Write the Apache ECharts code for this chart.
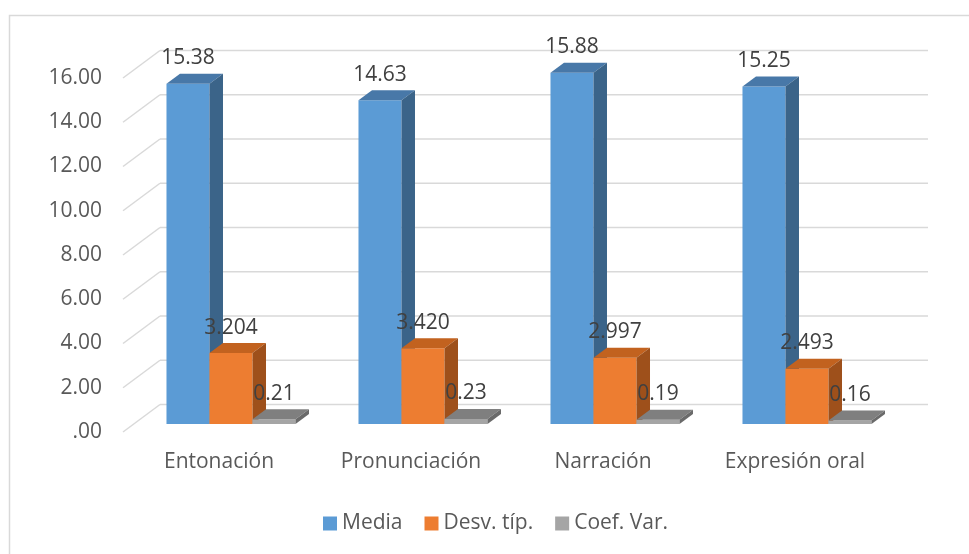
<!DOCTYPE html>
<html>
<head>
<meta charset="utf-8">
<script src="https://cdn.jsdelivr.net/npm/echarts@6/dist/echarts.min.js"></script>
<style>
html,body{margin:0;padding:0;background:#fff;}
#chart{width:969px;height:554px;}
</style>
</head>
<body>
<div id="chart"></div>
<script>
// ---- data ----
const categories = ['Entonación', 'Pronunciación', 'Narración', 'Expresión oral'];
const seriesNames = ['Media', 'Desv. típ.', 'Coef. Var.'];
const media = [15.38, 14.63, 15.88, 15.25];
const desv = [3.204, 3.420, 2.997, 2.493];
const coef = [0.21, 0.23, 0.19, 0.16];
const labelDecimals = [2, 3, 2];
const yTicks = [0, 2, 4, 6, 8, 10, 12, 14, 16];

// ---- style ----
const FONT = 'Open Sans';
const faceColors = [
  { front: '#5B9BD5', top: '#4878A8', side: '#3B6489' },
  { front: '#ED7D31', top: '#C2621F', side: '#9E501B' },
  { front: '#A5A5A5', top: '#7F7F7F', side: '#6A6A6A' }
];
const OX = 12, OY = -8;       // bar plane offset from front plane
const DX = 13.5, DY = -10;    // bar depth
const WX = 37, WY = -27.5;    // back wall offset

function barRenderer(si) {
  return function (params, api) {
    const idx = api.value(0), v = api.value(1);
    const base = api.coord([idx, 0]);
    const top = api.coord([idx, v]);
    const bw = api.size([1, 0])[0];
    const barW = bw * 0.224;
    const x0 = base[0] - 1.5 * barW + OX + si * barW;
    const yb = base[1] + OY, yt = top[1] + OY;
    const c = faceColors[si];
    return {
      type: 'group',
      children: [
        { type: 'rect', shape: { x: x0, y: yt, width: barW, height: yb - yt }, style: { fill: c.front } },
        { type: 'polygon', shape: { points: [[x0, yt], [x0 + barW, yt], [x0 + barW + DX, yt + DY], [x0 + DX, yt + DY]] }, style: { fill: c.top } },
        { type: 'polygon', shape: { points: [[x0 + barW, yt], [x0 + barW + DX, yt + DY], [x0 + barW + DX, yb + DY], [x0 + barW, yb]] }, style: { fill: c.side } },
        { type: 'text', z2: 100, style: { text: v.toFixed(labelDecimals[si]), x: x0 + barW / 2, y: yt - 25.5, align: 'center', verticalAlign: 'middle', fill: '#404040', font: '21px "' + FONT + '"' } }
      ]
    };
  };
}

function gridRenderer(params, api) {
  const v = api.value(1);
  const p = api.coord([0, v]);
  const cs = params.coordSys;
  const y = p[1];
  const lineStyle = { stroke: '#D9D9D9', lineWidth: 1.5, fill: null };
  return {
    type: 'group',
    children: [
      { type: 'line', shape: { x1: cs.x, y1: y, x2: cs.x + WX, y2: y + WY }, style: lineStyle },
      { type: 'line', shape: { x1: cs.x + WX, y1: y + WY, x2: cs.x + cs.width + WX, y2: y + WY }, style: lineStyle }
    ]
  };
}

const chart = echarts.init(document.getElementById('chart'), null, { renderer: 'canvas' });
const seriesData = [media, desv, coef];

chart.setOption({
  animation: false,
  backgroundColor: '#fff',
  textStyle: { fontFamily: FONT },
  graphic: [{
    type: 'rect', left: 7, top: 13, shape: { width: 975, height: 560 },
    style: { fill: null, stroke: '#D9D9D9', lineWidth: 1.5 }, silent: true
  }],
  grid: { left: 123, right: 78, top: 78, bottom: 122, containLabel: false },
  legend: {
    data: seriesNames,
    left: 318, top: 508,
    itemWidth: 14, itemHeight: 14, itemGap: 22,
    icon: 'rect',
    textStyle: { color: '#595959', fontSize: 21, fontFamily: FONT }
  },
  xAxis: {
    type: 'category',
    data: categories,
    axisLine: { show: false },
    axisTick: { show: false },
    axisLabel: { color: '#595959', fontSize: 21, fontFamily: FONT, margin: 20 }
  },
  yAxis: {
    type: 'value',
    min: 0, max: 16, interval: 2,
    axisLine: { show: false },
    axisTick: { show: false },
    splitLine: { show: false },
    axisLabel: {
      color: '#595959', fontSize: 21, fontFamily: FONT, margin: 21,
      formatter: function (v) { return v === 0 ? '.00' : v.toFixed(2); }
    }
  },
  series: [
    {
      type: 'custom', name: '_grid', silent: true, z: 1,
      renderItem: gridRenderer,
      data: yTicks.map(function (t) { return [0, t]; }),
      encode: { x: 0, y: 1 }
    }
  ].concat(seriesNames.map(function (name, si) {
    return {
      type: 'custom', name: name, z: 2 + si,
      itemStyle: { color: faceColors[si].front },
      renderItem: barRenderer(si),
      data: seriesData[si].map(function (v, i) { return [i, v]; }),
      encode: { x: 0, y: 1 }
    };
  }))
});
</script>
</body>
</html>
